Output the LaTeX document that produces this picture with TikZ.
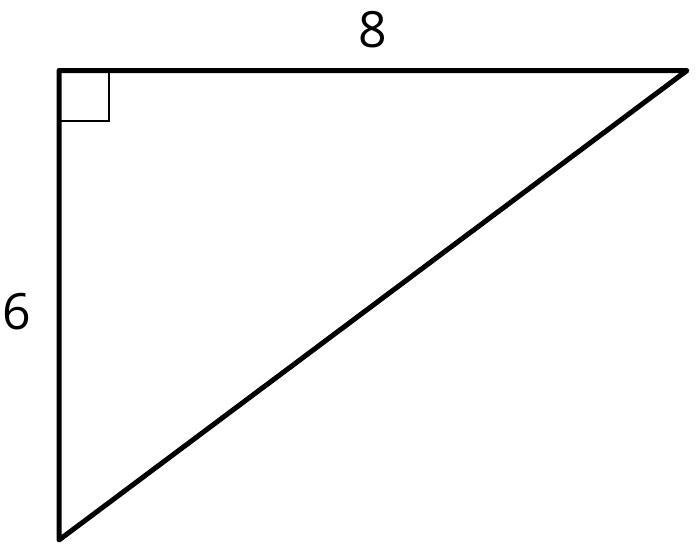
\documentclass[tikz,border=0pt]{standalone}
\usepackage{fontspec}
\setmainfont{Open Sans}
\begin{document}
\begin{tikzpicture}[x=1pt, y=-1pt, every node/.style={font=\fontsize{50}{60}\selectfont}]
			\useasboundingbox (0,0) rectangle (700,549);
			\coordinate (A) at (59,70.5);
			\coordinate (B) at (687,70.5);
			\coordinate (C) at (59,540);
			\draw[line width=5pt, line join=round] (A) -- (B) -- (C) -- cycle;
			\draw[line width=2pt] (59,121) -- (109,121) -- (109,70.5);
			\node (top) at (373,30) {8};
			\node (left) at (17,312) {6};
			\end{tikzpicture}
\end{document}
